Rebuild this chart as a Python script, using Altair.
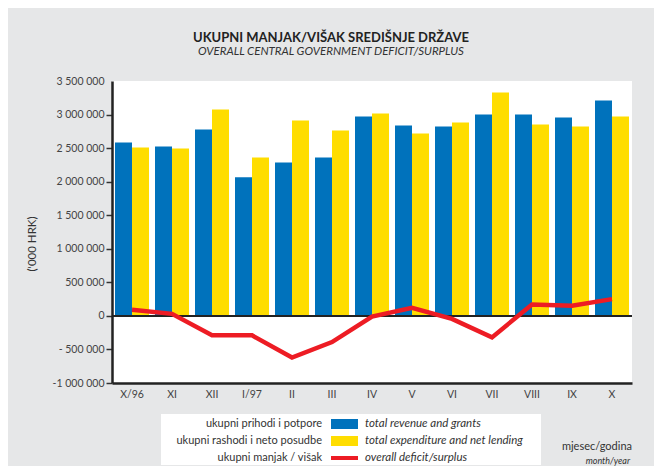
import altair as alt
import pandas as pd

months = ["X/96", "XI", "XII", "I/97", "II", "III", "IV", "V", "VI", "VII", "VIII", "IX", "X"]
revenue = [2584000, 2525000, 2777000, 2064000, 2287000, 2361000, 2970000, 2837000, 2822000, 3000000, 3000000, 2955000, 3208000]
expenditure = [2510000, 2495000, 3074000, 2361000, 2911000, 2762000, 3015000, 2718000, 2881000, 3327000, 2851000, 2822000, 2970000]
balance = [90000, 30000, -290000, -290000, -620000, -390000, -10000, 120000, -45000, -320000, 170000, 150000, 250000]

y_ticks = [-1000000, -500000, 0, 500000, 1000000, 1500000, 2000000, 2500000, 3000000, 3500000]
y_tick_labels = ["-1 000 000", "- 500 000", "0", "500 000", "1 000 000", "1 500 000",
                 "2 000 000", "2 500 000", "3 000 000", "3 500 000"]

legend_left = ["ukupni prihodi i potpore", "ukupni rashodi i neto posudbe", "ukupni manjak / višak"]
legend_right = ["total revenue and grants", "total expenditure and net lending", "overall deficit/surplus"]
series_keys = ["rev", "exp"]
colors = ["#0072bc", "#ffdd00", "#ed1c24"]

title_hr = "UKUPNI MANJAK/VIŠAK SREDIŠNJE DRŽAVE"
title_en = "OVERALL CENTRAL GOVERNMENT DEFICIT/SURPLUS"
y_title = "('000 HRK)"
x_title_hr = "mjesec/godina"
x_title_en = "month/year"

FONT = "Lato"
W, H = 520, 302

bars_df = pd.DataFrame({
    "month": months * 2,
    "series": [series_keys[0]] * len(months) + [series_keys[1]] * len(months),
    "value": revenue + expenditure,
})
line_df = pd.DataFrame({"month": months, "value": balance})
legend_df = pd.DataFrame({"idx": [0, 1, 2], "left": legend_left, "right": legend_right, "color": colors})

label_expr = "''"
for v, lab in zip(reversed(y_ticks), reversed(y_tick_labels)):
    label_expr = f"datum.value == {v} ? '{lab}' : ({label_expr})"

yscale = alt.Scale(domain=[y_ticks[0], y_ticks[-1]], nice=False, zero=False)
xscale = alt.Scale(paddingInner=0.15, paddingOuter=0.075)

x_axis = alt.Axis(title=None, labelFont=FONT, labelFontSize=10.5, labelColor="#444",
                  labelPadding=6, ticks=False, domainColor="#222", domainWidth=2.5,
                  labelAngle=0, labelOverlap=False)
y_axis = alt.Axis(title=None, values=y_ticks, labelExpr=label_expr, grid=False,
                  labelFont=FONT, labelFontSize=10.5, labelColor="#444",
                  tickSize=6, tickWidth=1.5, tickColor="#333", labelPadding=2,
                  tickOpacity=alt.ExprRef(expr=f"datum.value == {y_ticks[-1]} ? 0 : 1"),
                  domainColor="#222", domainWidth=2.5, labelOverlap=False,
                  labelBound=False, labelFlush=False)

def X():
    return alt.X("month:N", sort=months, scale=xscale, axis=x_axis)

def Y():
    return alt.Y("value:Q", scale=yscale, axis=y_axis)

bars = alt.Chart(bars_df).mark_bar(width={"band": 1}).encode(
    x=X(),
    xOffset=alt.XOffset("series:N", sort=series_keys,
                        scale=alt.Scale(paddingInner=0, paddingOuter=0)),
    y=Y(),
    color=alt.Color("series:N", scale=alt.Scale(domain=series_keys, range=colors[:2]), legend=None),
)

zero = alt.Chart(pd.DataFrame({"value": [0]})).mark_rule(color="#222", strokeWidth=2).encode(y=Y())

line = alt.Chart(line_df).mark_line(color=colors[2], strokeWidth=4.5, strokeJoin="miter").encode(
    x=X(), y=Y())

def txt(s, x, y, **kw):
    return alt.Chart(pd.DataFrame({"t": [s]})).mark_text(font=FONT, **kw).encode(
        x=alt.value(x), y=alt.value(y), text="t:N")

ox, oy = 112, 81  # plot origin on the page
title1 = txt(title_hr, 331 - ox, 38 - oy, fontSize=13, fontWeight="bold", color="#222")
title2 = txt(title_en, 331 - ox, 52 - oy, fontSize=11.5, fontStyle="italic", color="#333")
ytitle = txt(y_title, 33 - ox, 244 - oy, fontSize=11.5, color="#333", angle=270)
xt1 = txt(x_title_hr, 632 - ox, 447 - oy, fontSize=11, color="#333", align="right")
xt2 = txt(x_title_en, 630 - ox, 461 - oy, fontSize=9, fontStyle="italic", color="#333", align="right")

legend_box = alt.Chart(pd.DataFrame({"a": [0]})).mark_rect(color="white").encode(
    x=alt.value(161 - ox), x2=alt.value(541 - ox), y=alt.value(414 - oy), y2=alt.value(465 - oy))

row_y = [424, 441, 458]
legend_layers = []
for i in range(3):
    base = alt.Chart(legend_df).transform_filter(alt.datum.idx == i)
    legend_layers.append(base.mark_text(font=FONT, fontSize=11, color="#333", align="right").encode(
        x=alt.value(322 - ox), y=alt.value(row_y[i] - oy), text="left:N"))
    legend_layers.append(base.mark_text(font=FONT, fontSize=11.5, color="#333", align="left",
                                        fontStyle="italic").encode(
        x=alt.value(365 - ox), y=alt.value(row_y[i] - oy), text="right:N"))
    h = 5 if i < 2 else 2
    legend_layers.append(base.mark_rect().encode(
        x=alt.value(331 - ox), x2=alt.value(358 - ox),
        y=alt.value(row_y[i] - oy - h), y2=alt.value(row_y[i] - oy + h),
        color=alt.Color("color:N", scale=None)))

chart = alt.layer(bars, zero, line, title1, title2, ytitle, xt1, xt2, legend_box, *legend_layers).properties(
    width=W, height=H,
    autosize=alt.AutoSizeParams(type="none"),
    padding={"left": ox - 8, "top": oy - 8, "right": 646 - (ox - 8) - W, "bottom": 458 - (oy - 8) - H},
).configure(background="#e6e7e8").configure_view(fill="white", stroke=None)

chart.save("out.html", embed_options={"renderer": "svg", "actions": False})
